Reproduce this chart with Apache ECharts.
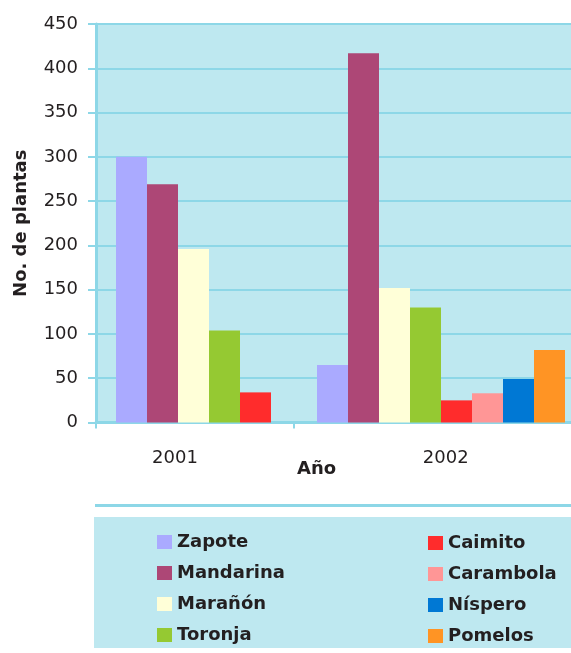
<!DOCTYPE html>
<html>
<head>
<meta charset="utf-8">
<style>
  html, body { margin: 0; padding: 0; background: #ffffff; }
  #chart { width: 571px; height: 653px; }
</style>
<script src="https://cdn.jsdelivr.net/npm/echarts@6/dist/echarts.min.js"></script>
</head>
<body>
<div id="chart"></div>
<script>
// Plant counts per fruit species, by year
const years = ['2001', '2002'];
const zapote    = [300, 65];
const mandarina = [269, 417];
const maranon   = [196, 152];
const toronja   = [104, 130];
const caimito   = [34, 25];
const carambola = [null, 33];
const nispero   = [null, 49];
const pomelos   = [null, 82];

const seriesNames = ['Zapote', 'Mandarina', 'Marañón', 'Toronja', 'Caimito', 'Carambola', 'Níspero', 'Pomelos'];
const seriesValues = [zapote, mandarina, maranon, toronja, caimito, carambola, nispero, pomelos];
const seriesColors = ['#aaaaff', '#ad4776', '#ffffd8', '#95c932', '#ff2c2c', '#ff9696', '#0078d4', '#ff9424'];

// Y scale
const yMin = 0, yMax = 450, yStep = 50;

// Year label / separator positions along the lower axis (fraction of its length)
const yearLabelPos = [0.1663, 0.7362];
const yearTickPos = [0, 0.4154];

const axisBlue = '#8dd7e7';
const plotBg = '#bee8f0';
const textColor = '#231f20';
const fontFamily = 'DejaVu Sans';

const chart = echarts.init(document.getElementById('chart'), null, { renderer: 'canvas' });

const option = {
  animation: false,
  textStyle: { fontFamily: fontFamily, color: textColor },
  title: {
    text: 'Año',
    left: 292,
    top: 455,
    textStyle: { fontFamily: fontFamily, fontSize: 18, fontWeight: 'bold', color: textColor }
  },
  grid: [
    { // plot frame, scale and year axis
      left: 96, right: 0, top: 24, height: 398.5,
      show: true, backgroundColor: plotBg, borderWidth: 0
    },
    { // bar layout band
      left: 139.5, right: 29.5, top: 24, height: 398.5,
      show: false
    }
  ],
  xAxis: [
    {
      gridIndex: 0,
      type: 'value',
      min: 0, max: 1,
      axisLine: { show: true, lineStyle: { color: axisBlue, width: 3 } },
      axisTick: { show: true, customValues: yearTickPos, length: 6, lineStyle: { color: axisBlue, width: 2 } },
      axisLabel: {
        show: true,
        customValues: yearLabelPos,
        formatter: function (v) {
          const i = yearLabelPos.indexOf(v);
          return i >= 0 ? years[i] : '';
        },
        margin: 27,
        fontSize: 18,
        fontFamily: fontFamily,
        color: textColor
      },
      splitLine: { show: false }
    },
    {
      gridIndex: 1,
      type: 'category',
      data: years,
      show: false
    }
  ],
  yAxis: [
    {
      gridIndex: 0,
      type: 'value',
      min: yMin, max: yMax, interval: yStep,
      name: 'No. de plantas',
      nameLocation: 'middle',
      nameRotate: 90,
      nameGap: 66,
      nameTextStyle: { fontFamily: fontFamily, fontSize: 18, fontWeight: 'bold', color: textColor },
      axisLine: { show: true, lineStyle: { color: axisBlue, width: 3 } },
      axisTick: { show: true, length: 8, lineStyle: { color: axisBlue, width: 2 } },
      axisLabel: { margin: 18, fontSize: 18, fontFamily: fontFamily, color: textColor },
      splitLine: { show: true, lineStyle: { color: axisBlue, width: 2 } }
    },
    {
      gridIndex: 1,
      type: 'value',
      min: yMin, max: yMax, interval: yStep,
      show: false
    }
  ],
  legend: [
    {
      data: seriesNames.slice(0, 4),
      orient: 'vertical',
      left: 152, top: 528,
      icon: 'rect',
      itemWidth: 15, itemHeight: 14, itemGap: 13,
      textStyle: { fontFamily: fontFamily, fontSize: 18, fontWeight: 'bold', color: textColor, lineHeight: 18 },
      selectedMode: false
    },
    {
      data: seriesNames.slice(4),
      orient: 'vertical',
      left: 423, top: 529,
      icon: 'rect',
      itemWidth: 15, itemHeight: 14, itemGap: 13,
      textStyle: { fontFamily: fontFamily, fontSize: 18, fontWeight: 'bold', color: textColor, lineHeight: 18 },
      selectedMode: false
    }
  ],
  graphic: [
    { // divider above the legend
      type: 'line',
      shape: { x1: 95, y1: 505.5, x2: 571, y2: 505.5 },
      style: { stroke: axisBlue, lineWidth: 3 },
      z: -1
    },
    { // legend panel
      type: 'rect',
      shape: { x: 94, y: 517, width: 477, height: 131 },
      style: { fill: plotBg },
      z: -1
    }
  ],
  series: seriesNames.map(function (name, i) {
    return {
      name: name,
      type: 'bar',
      xAxisIndex: 1,
      yAxisIndex: 1,
      data: seriesValues[i],
      barWidth: 31,
      barGap: '0%',
      clip: false,
      itemStyle: { color: seriesColors[i] }
    };
  })
};

chart.setOption(option);
</script>
</body>
</html>
